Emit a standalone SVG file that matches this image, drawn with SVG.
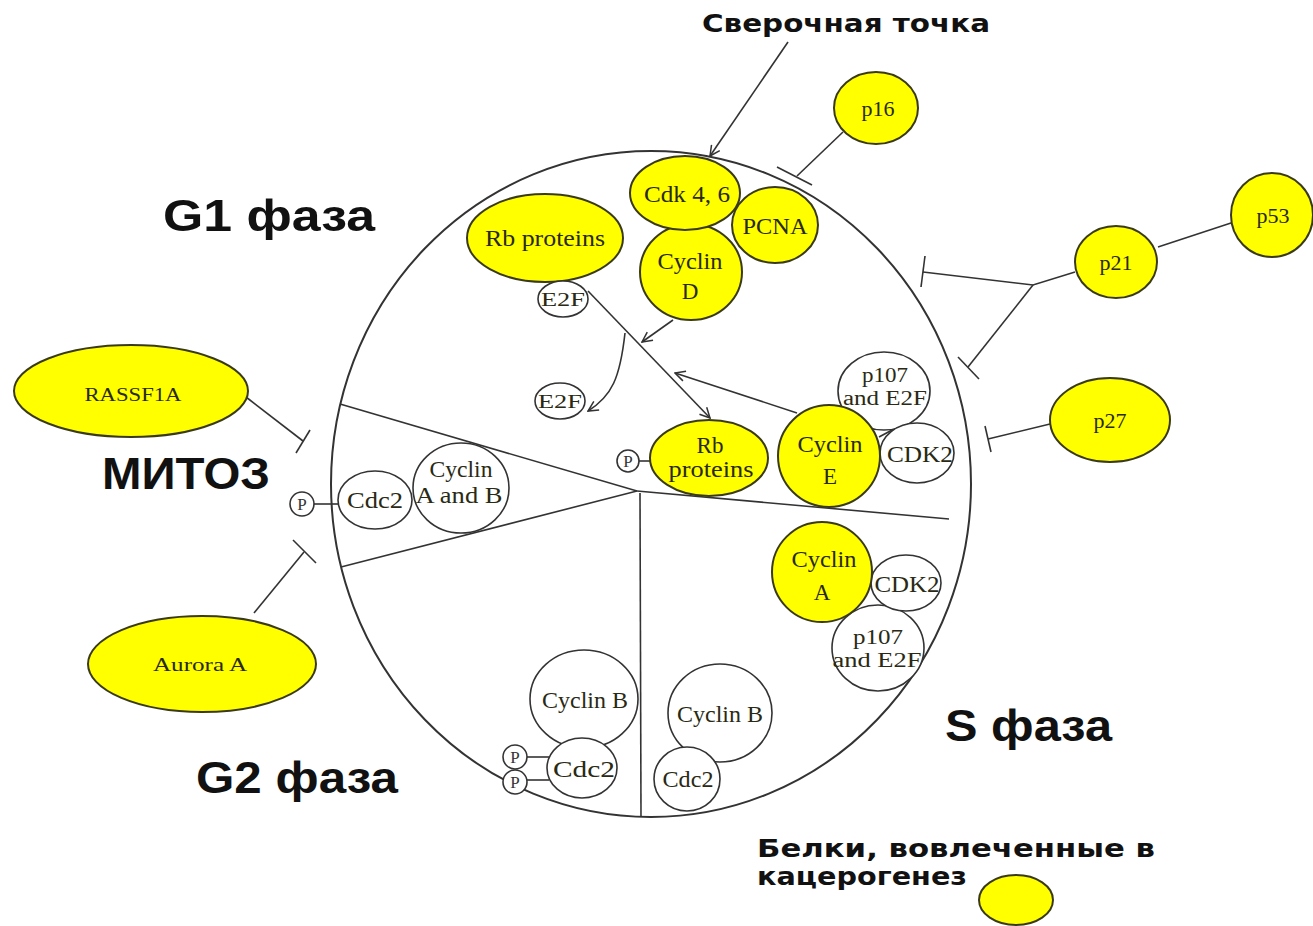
<svg xmlns="http://www.w3.org/2000/svg" width="1313" height="926" viewBox="0 0 1313 926">
  <defs>
    <marker id="arrow" viewBox="0 0 12 12" refX="11" refY="6" markerWidth="12" markerHeight="12" markerUnits="userSpaceOnUse" orient="auto">
      <path d="M1,1 L11,6 L1,11" fill="none" stroke="#333" stroke-width="1.5"/>
    </marker>
  </defs>
  <style>
    .bg { fill: #ffffff; }
    .cell { fill: none; stroke: #333; stroke-width: 2; }
    .div { fill: none; stroke: #333; stroke-width: 1.6; }
    .yel { fill: #ffff00; stroke: #3a3a1a; stroke-width: 2; }
    .wht { fill: #ffffff; stroke: #333; stroke-width: 1.6; }
    .lbl { font-family: "Liberation Serif", "DejaVu Serif", serif; font-size: 23px; fill: #2a2a14; text-anchor: middle; }
    .sm { font-size: 19px; }
    .two { font-size: 20px; }
    .ext { font-size: 22px; }
    .p { font-family: "Liberation Serif", serif; font-size: 17px; fill: #333; text-anchor: middle; }
    .phase { font-family: "Liberation Sans", Arial, sans-serif; font-weight: bold; font-size: 45px; fill: #111; }
    .note { font-family: "DejaVu Sans", Verdana, sans-serif; font-weight: bold; font-size: 25px; fill: #111; }
    .con { fill: none; stroke: #333; stroke-width: 1.6; }
  </style>

  <rect class="bg" x="0" y="0" width="1313" height="926"/>

  <!-- cell outline and phase sectors -->
  <g id="cell">
    <ellipse class="cell" cx="651" cy="484" rx="320" ry="333"/>
    <line class="div" x1="340" y1="404" x2="637" y2="491"/>
    <line class="div" x1="341" y1="567" x2="637" y2="491"/>
    <line class="div" x1="637" y1="491" x2="949" y2="519"/>
    <line class="div" x1="640" y1="493" x2="641" y2="817"/>
  </g>

  <!-- phase labels -->
  <g id="phase-labels">
    <text class="phase" x="163" y="231" textLength="212" lengthAdjust="spacingAndGlyphs">G1 фаза</text>
    <text class="phase" x="102" y="489" textLength="168" lengthAdjust="spacingAndGlyphs">МИТОЗ</text>
    <text class="phase" x="945" y="741" textLength="167" lengthAdjust="spacingAndGlyphs">S фаза</text>
    <text class="phase" x="196" y="793" textLength="202" lengthAdjust="spacingAndGlyphs">G2 фаза</text>
  </g>

  <!-- connectors -->
  <g id="connectors">
    <!-- checkpoint pointer -->
    <line class="con" x1="788" y1="42" x2="710" y2="156" marker-end="url(#arrow)"/>
    <!-- p16 inhibition -->
    <line class="con" x1="843" y1="132" x2="797" y2="176"/>
    <line class="con" x1="777" y1="167" x2="812" y2="185"/>
    <!-- p53 - p21 -->
    <line class="con" x1="1158" y1="247" x2="1234" y2="222"/>
    <!-- p21 branching inhibition -->
    <polyline class="con" points="1075,272 1033,285 923,272"/>
    <line class="con" x1="925" y1="256" x2="921" y2="287"/>
    <line class="con" x1="1033" y1="285" x2="968" y2="367"/>
    <line class="con" x1="958" y1="357" x2="979" y2="379"/>
    <!-- p27 inhibition -->
    <line class="con" x1="1050" y1="424" x2="988" y2="439"/>
    <line class="con" x1="985" y1="426" x2="991" y2="452"/>
    <!-- RASSF1A inhibition -->
    <line class="con" x1="246" y1="397" x2="303" y2="441"/>
    <line class="con" x1="310" y1="430" x2="296" y2="453"/>
    <!-- Aurora A inhibition -->
    <line class="con" x1="254" y1="613" x2="304" y2="552"/>
    <line class="con" x1="293" y1="540" x2="316" y2="563"/>
    <!-- Cyclin D activation -->
    <line class="con" x1="673" y1="320" x2="642" y2="342" marker-end="url(#arrow)"/>
    <!-- E2F released from Rb -->
    <line class="con" x1="588" y1="291" x2="710" y2="418" marker-end="url(#arrow)"/>
    <path class="con" d="M625,333 C620,378 612,396 588,411" marker-end="url(#arrow)"/>
    <!-- Cyclin E activation -->
    <line class="con" x1="797" y1="413" x2="675" y2="373" marker-end="url(#arrow)"/>
    <line class="con" x1="879" y1="437" x2="894" y2="429"/>
    <!-- phosphate bonds -->
    <line class="con" x1="314" y1="504" x2="338" y2="504"/>
    <line class="con" x1="639" y1="461" x2="651" y2="461"/>
    <line class="con" x1="527" y1="757" x2="549" y2="757"/>
    <line class="con" x1="527" y1="780" x2="549" y2="780"/>
  </g>

  <!-- G1 phase nodes -->
  <g id="rb-proteins-g1">
    <ellipse class="yel" cx="545" cy="238" rx="78" ry="44"/>
    <text class="lbl" x="545" y="246" textLength="120" lengthAdjust="spacingAndGlyphs">Rb proteins</text>
  </g>
  <g id="e2f-bound">
    <ellipse class="wht" cx="563" cy="299" rx="25" ry="18"/>
    <text class="lbl sm" x="563" y="306" textLength="44" lengthAdjust="spacingAndGlyphs">E2F</text>
  </g>
  <g id="cyclin-d">
    <ellipse class="yel" cx="691" cy="272" rx="51" ry="48"/>
    <text class="lbl" x="690" y="269" textLength="65" lengthAdjust="spacingAndGlyphs">Cyclin</text>
    <text class="lbl" x="690" y="299">D</text>
  </g>
  <g id="pcna">
    <ellipse class="yel" cx="775" cy="225" rx="43" ry="38"/>
    <text class="lbl" x="775" y="234" textLength="65" lengthAdjust="spacingAndGlyphs">PCNA</text>
  </g>
  <g id="cdk46">
    <ellipse class="yel" cx="685" cy="193" rx="55" ry="37"/>
    <text class="lbl" x="687" y="202" textLength="86" lengthAdjust="spacingAndGlyphs">Cdk 4, 6</text>
  </g>
  <g id="e2f-free">
    <ellipse class="wht" cx="560" cy="401" rx="25" ry="18"/>
    <text class="lbl sm" x="560" y="408" textLength="44" lengthAdjust="spacingAndGlyphs">E2F</text>
  </g>
  <g id="rb-proteins-p">
    <ellipse class="yel" cx="709" cy="458" rx="59" ry="38"/>
    <text class="lbl" x="710" y="453">Rb</text>
    <text class="lbl" x="711" y="477" textLength="85" lengthAdjust="spacingAndGlyphs">proteins</text>
    <circle class="wht" cx="628" cy="461" r="11"/>
    <text class="p" x="628" y="467">P</text>
  </g>
  <g id="p107-e2f-g1">
    <ellipse class="wht" cx="884" cy="391" rx="46" ry="39"/>
    <text class="lbl two" x="885" y="382" textLength="46" lengthAdjust="spacingAndGlyphs">p107</text>
    <text class="lbl two" x="885" y="405" textLength="84" lengthAdjust="spacingAndGlyphs">and E2F</text>
  </g>
  <g id="cdk2-g1">
    <ellipse class="wht" cx="917" cy="453" rx="37" ry="30"/>
    <text class="lbl" x="920" y="462" textLength="66" lengthAdjust="spacingAndGlyphs">CDK2</text>
  </g>
  <g id="cyclin-e">
    <ellipse class="yel" cx="829" cy="456" rx="51" ry="51"/>
    <text class="lbl" x="830" y="452" textLength="65" lengthAdjust="spacingAndGlyphs">Cyclin</text>
    <text class="lbl" x="830" y="484">E</text>
  </g>

  <!-- S phase nodes -->
  <g id="p107-e2f-s">
    <ellipse class="wht" cx="878" cy="648" rx="46" ry="43"/>
    <text class="lbl two" x="878" y="644" textLength="50" lengthAdjust="spacingAndGlyphs">p107</text>
    <text class="lbl two" x="877" y="667" textLength="89" lengthAdjust="spacingAndGlyphs">and E2F</text>
  </g>
  <g id="cdk2-s">
    <ellipse class="wht" cx="906" cy="583" rx="35" ry="28"/>
    <text class="lbl" x="907" y="592" textLength="65" lengthAdjust="spacingAndGlyphs">CDK2</text>
  </g>
  <g id="cyclin-a">
    <ellipse class="yel" cx="822" cy="572" rx="50" ry="50"/>
    <text class="lbl" x="824" y="567" textLength="65" lengthAdjust="spacingAndGlyphs">Cyclin</text>
    <text class="lbl" x="822" y="600">A</text>
  </g>
  <g id="cyclin-b-s">
    <ellipse class="wht" cx="720" cy="713" rx="52" ry="49"/>
    <text class="lbl" x="720" y="722" textLength="86" lengthAdjust="spacingAndGlyphs">Cyclin B</text>
  </g>
  <g id="cdc2-s">
    <ellipse class="wht" cx="687" cy="779" rx="33" ry="32"/>
    <text class="lbl" x="688" y="787" textLength="51" lengthAdjust="spacingAndGlyphs">Cdc2</text>
  </g>

  <!-- G2 phase nodes -->
  <g id="cyclin-b-g2">
    <ellipse class="wht" cx="584" cy="699" rx="54" ry="49"/>
    <text class="lbl" x="585" y="708" textLength="86" lengthAdjust="spacingAndGlyphs">Cyclin B</text>
  </g>
  <g id="cdc2-g2">
    <ellipse class="wht" cx="582" cy="768" rx="35" ry="30"/>
    <text class="lbl" x="584" y="777" textLength="62" lengthAdjust="spacingAndGlyphs">Cdc2</text>
    <circle class="wht" cx="515" cy="757" r="12"/>
    <text class="p" x="515" y="763">P</text>
    <circle class="wht" cx="515" cy="782" r="12"/>
    <text class="p" x="515" y="788">P</text>
  </g>

  <!-- mitosis nodes -->
  <g id="cyclin-ab">
    <ellipse class="wht" cx="461" cy="488" rx="48" ry="45"/>
    <text class="lbl" x="461" y="477" textLength="63" lengthAdjust="spacingAndGlyphs">Cyclin</text>
    <text class="lbl" x="459" y="503" textLength="87" lengthAdjust="spacingAndGlyphs">A and B</text>
  </g>
  <g id="cdc2-m">
    <ellipse class="wht" cx="375" cy="500" rx="37" ry="29"/>
    <text class="lbl" x="375" y="508" textLength="56" lengthAdjust="spacingAndGlyphs">Cdc2</text>
    <circle class="wht" cx="302" cy="504" r="12"/>
    <text class="p" x="302" y="510">P</text>
  </g>

  <!-- regulators outside the cell -->
  <g id="rassf1a">
    <ellipse class="yel" cx="131" cy="391" rx="117" ry="46"/>
    <text class="lbl sm" x="133" y="401" textLength="97" lengthAdjust="spacingAndGlyphs">RASSF1A</text>
  </g>
  <g id="aurora-a">
    <ellipse class="yel" cx="202" cy="664" rx="114" ry="48"/>
    <text class="lbl sm" x="200" y="671" textLength="94" lengthAdjust="spacingAndGlyphs">Aurora A</text>
  </g>
  <g id="p16">
    <ellipse class="yel" cx="876" cy="108" rx="42" ry="36"/>
    <text class="lbl ext" x="878" y="116">p16</text>
  </g>
  <g id="p21">
    <ellipse class="yel" cx="1116" cy="262" rx="41" ry="36"/>
    <text class="lbl ext" x="1116" y="270">p21</text>
  </g>
  <g id="p53">
    <ellipse class="yel" cx="1272" cy="215" rx="41" ry="42"/>
    <text class="lbl ext" x="1273" y="223">p53</text>
  </g>
  <g id="p27">
    <ellipse class="yel" cx="1110" cy="420" rx="60" ry="42"/>
    <text class="lbl ext" x="1110" y="428">p27</text>
  </g>

  <!-- checkpoint caption -->
  <g id="checkpoint-label">
    <text class="note" x="702" y="32" textLength="288" lengthAdjust="spacingAndGlyphs">Сверочная точка</text>
  </g>

  <!-- legend -->
  <g id="legend">
    <text class="note" x="757" y="857" textLength="398" lengthAdjust="spacingAndGlyphs">Белки, вовлеченные в</text>
    <text class="note" x="757" y="885" textLength="210" lengthAdjust="spacingAndGlyphs">кацерогенез</text>
    <ellipse class="yel" cx="1016" cy="900" rx="37" ry="25"/>
  </g>
</svg>
